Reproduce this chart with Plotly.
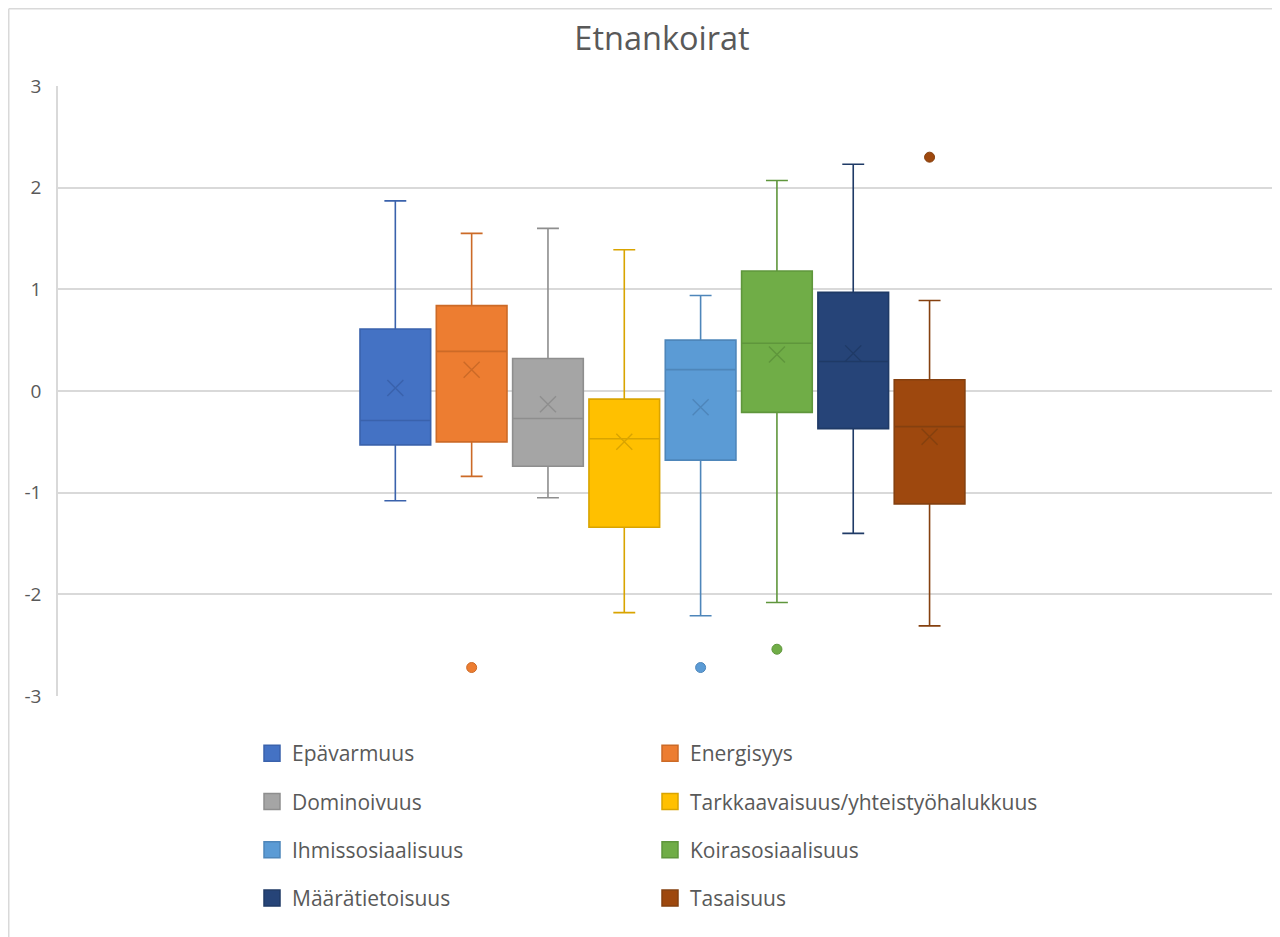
import plotly.graph_objects as go

# ---- data ----
categories = ["Epävarmuus", "Energisyys", "Dominoivuus",
              "Tarkkaavaisuus/yhteistyöhalukkuus", "Ihmissosiaalisuus",
              "Koirasosiaalisuus", "Määrätietoisuus", "Tasaisuus"]
lower_whisker = [-1.08, -0.84, -1.05, -2.18, -2.21, -2.08, -1.40, -2.31]
q1_values     = [-0.53, -0.50, -0.74, -1.34, -0.68, -0.21, -0.37, -1.11]
median_values = [-0.29, 0.39, -0.27, -0.47, 0.21, 0.47, 0.29, -0.35]
q3_values     = [0.61, 0.84, 0.32, -0.08, 0.50, 1.18, 0.97, 0.11]
upper_whisker = [1.87, 1.55, 1.60, 1.39, 0.94, 2.07, 2.23, 0.89]
mean_values   = [0.03, 0.21, -0.13, -0.50, -0.16, 0.36, 0.37, -0.45]
outlier_values = [[], [-2.72], [], [], [-2.72], [-2.54], [], [2.30]]
y_ticks = [-3, -2, -1, 0, 1, 2, 3]
y_tick_labels = ["-3", "-2", "-1", "0", "1", "2", "3"]
title_text = "Etnankoirat"

# ---- styles ----
fill_colors = ["#4472C4", "#ED7D31", "#A5A5A5", "#FFC000",
               "#5B9BD5", "#70AD47", "#264478", "#9E480E"]
line_colors = ["#3A62AC", "#CC6A27", "#8E8E8E", "#D9A400",
               "#4E86BA", "#5F963C", "#1F3A66", "#85400F"]
FONT = "Open Sans"
TXT = "#595959"
GRID = "#D9D9D9"

fig = go.Figure()
for i, name in enumerate(categories):
    fig.add_trace(go.Box(
        x=[i], q1=[q1_values[i]], median=[median_values[i]], q3=[q3_values[i]],
        lowerfence=[lower_whisker[i]], upperfence=[upper_whisker[i]],
        name=name, width=0.926, whiskerwidth=0.31, boxpoints=False,
        fillcolor=fill_colors[i], line=dict(color=line_colors[i], width=1.6),
        showlegend=False, hoverinfo="skip"))
    fig.add_trace(go.Scatter(
        x=[i], y=[mean_values[i]], mode="markers", showlegend=False,
        marker=dict(symbol="x-thin", size=16,
                    line=dict(color=line_colors[i], width=1.4))))
    if outlier_values[i]:
        fig.add_trace(go.Scatter(
            x=[i] * len(outlier_values[i]), y=outlier_values[i], mode="markers",
            showlegend=False,
            marker=dict(symbol="circle", size=10, color=fill_colors[i],
                        line=dict(color=line_colors[i], width=1))))

# legend entries (two columns)
for i, name in enumerate(categories):
    fig.add_trace(go.Scatter(
        x=[None], y=[None], mode="markers", name=name,
        legend="legend" if i % 2 == 0 else "legend2",
        legendgroup=f"g{i}",
        marker=dict(symbol="square", size=16, color=fill_colors[i],
                    line=dict(color=line_colors[i], width=1.5))))

W, H = 1272, 929
L, R, T, B = 50, 7, 78, 241
pw, ph = W - L - R, H - T - B

legend_common = dict(
    orientation="v", xref="container", yref="container",
    yanchor="top", xanchor="left", itemsizing="trace",
    tracegroupgap=18, bgcolor="rgba(0,0,0,0)",
    font=dict(family=FONT, size=21, color=TXT))

fig.update_layout(
    width=W, height=H,
    margin=dict(l=L, r=R, t=T, b=B, autoexpand=False),
    paper_bgcolor="white", plot_bgcolor="white",
    font=dict(family=FONT, color=TXT),
    title=dict(text=title_text, x=(654 - L) / pw, xref="paper", xanchor="center",
               y=1 - 31 / H, yanchor="middle",
               font=dict(family=FONT, size=32.5, color=TXT)),
    showlegend=True,
    legend=dict(x=244 / W, y=1 - 725 / H, **legend_common),
    legend2=dict(x=642 / W, y=1 - 725 / H, **legend_common),
    xaxis=dict(range=[-4.42, 11.50], showgrid=False, zeroline=False,
               showticklabels=False, ticks="", showline=False, fixedrange=True),
    yaxis=dict(range=[-3, 3], tickvals=y_ticks, ticktext=y_tick_labels,
               showgrid=True, gridcolor=GRID,
               gridwidth=1.5, zeroline=False, showline=True, linecolor=GRID,
               linewidth=1.5, ticks="", ticklabelstandoff=11,
               tickfont=dict(family=FONT, size=19, color=TXT)),
    shapes=[
        # outer chart border (top and left edges)
        dict(type="line", xref="paper", yref="paper",
             x0=(0.75 - L) / pw, x1=(W + 5 - L) / pw,
             y0=(H - B - 0.75) / ph, y1=(H - B - 0.75) / ph,
             line=dict(color=GRID, width=1.5)),
        dict(type="line", xref="paper", yref="paper",
             x0=(0.75 - L) / pw, x1=(0.75 - L) / pw,
             y0=(H - B - 0.75) / ph, y1=(H - B - H - 5) / ph,
             line=dict(color=GRID, width=1.5)),
    ],
)

fig.write_html("out.html")
